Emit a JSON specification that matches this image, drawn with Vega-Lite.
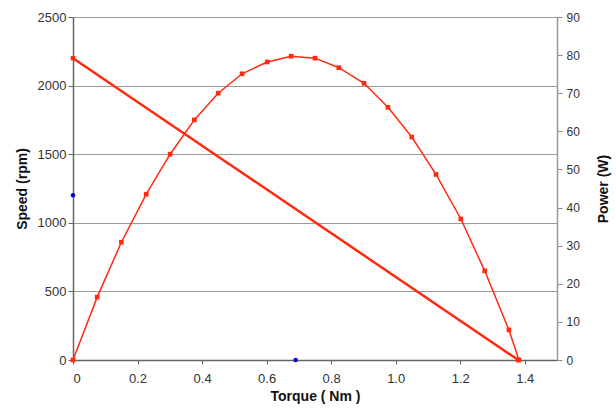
{
  "$schema": "https://vega.github.io/schema/vega-lite/v6.json",
  "autosize": "none",
  "width": 484,
  "height": 343,
  "padding": {"left": 73, "top": 17, "right": 59, "bottom": 55},
  "background": "white",
  "config": {
    "view": {"stroke": null},
    "font": "Liberation Sans",
    "axis": {"labelFont": "Liberation Sans", "titleFont": "Liberation Sans", "labelColor": "#333333", "titleColor": "#111111", "labelFontSize": 12, "titleFontSize": 14, "titleFontWeight": "bold"}
  },
  "datasets": {
    "speed": [
      {"torque": 0, "speed": 2200},
      {"torque": 1.38, "speed": 0}
    ],
    "power": [
      {"torque": 0, "power": 0},
      {"torque": 0.075, "power": 16.5},
      {"torque": 0.15, "power": 30.9},
      {"torque": 0.227, "power": 43.5},
      {"torque": 0.301, "power": 54.0},
      {"torque": 0.376, "power": 63.0},
      {"torque": 0.45, "power": 70.0},
      {"torque": 0.524, "power": 75.1},
      {"torque": 0.602, "power": 78.2},
      {"torque": 0.676, "power": 79.7},
      {"torque": 0.75, "power": 79.2},
      {"torque": 0.824, "power": 76.7},
      {"torque": 0.902, "power": 72.6},
      {"torque": 0.976, "power": 66.3},
      {"torque": 1.05, "power": 58.5},
      {"torque": 1.125, "power": 48.7},
      {"torque": 1.202, "power": 37.0},
      {"torque": 1.276, "power": 23.4},
      {"torque": 1.351, "power": 7.9},
      {"torque": 1.382, "power": 0}
    ],
    "marks": [
      {"torque": 0, "speed": 1200},
      {"torque": 0.69, "speed": 0}
    ]
  },
  "layer": [
    {
      "layer": [
        {
          "data": {"name": "speed"},
          "mark": {"type": "line", "color": "#ff2a10", "strokeWidth": 2.5, "point": {"shape": "square", "size": 20, "filled": true, "color": "#ff2a10"}},
          "encoding": {
            "x": {"field": "torque", "type": "quantitative", "scale": {"domain": [0, 1.5], "nice": false},
              "axis": {"title": "Torque ( Nm )", "values": [0, 0.2, 0.4, 0.6, 0.8, 1.0, 1.2, 1.4], "labelExpr": "datum.value == 0 ? '0' : format(datum.value, '.1f')", "grid": false, "domainColor": "#666666", "domainWidth": 1.5, "tickColor": "#666666", "tickSize": 4, "labelPadding": 8, "titlePadding": 4, "labelFontSize": 13}},
            "y": {"field": "speed", "type": "quantitative", "scale": {"domain": [0, 2500], "nice": false},
              "axis": {"title": "Speed (rpm)", "format": "d", "values": [0, 500, 1000, 1500, 2000, 2500], "grid": true, "gridColor": "#999999", "gridWidth": 1.2, "domainColor": "#666666", "domainWidth": 1.5, "tickColor": "#666666", "tickSize": 5, "labelPadding": 2, "titlePadding": 8, "labelFontSize": 13}}
          }
        },
        {
          "data": {"name": "marks"},
          "mark": {"type": "point", "shape": "circle", "filled": true, "color": "#0000cc", "size": 20, "opacity": 1},
          "encoding": {
            "x": {"field": "torque", "type": "quantitative"},
            "y": {"field": "speed", "type": "quantitative"}
          }
        }
      ]
    },
    {
      "data": {"name": "power"},
      "mark": {"type": "line", "color": "#ff2a10", "strokeWidth": 1.5, "point": {"shape": "square", "size": 22, "filled": true, "color": "#ff2a10"}},
      "encoding": {
        "x": {"field": "torque", "type": "quantitative"},
        "y": {"field": "power", "type": "quantitative", "scale": {"domain": [0, 90], "nice": false},
          "axis": {"title": "Power (W)", "titleAngle": 270, "titleBaseline": "top", "orient": "right", "values": [0, 10, 20, 30, 40, 50, 60, 70, 80, 90], "grid": false, "domainColor": "#999999", "domainWidth": 1.5, "tickColor": "#888888", "tickSize": 5, "labelPadding": 4, "titlePadding": 17, "labelFontSize": 12}}
      }
    }
  ],
  "resolve": {"scale": {"y": "independent"}}
}
